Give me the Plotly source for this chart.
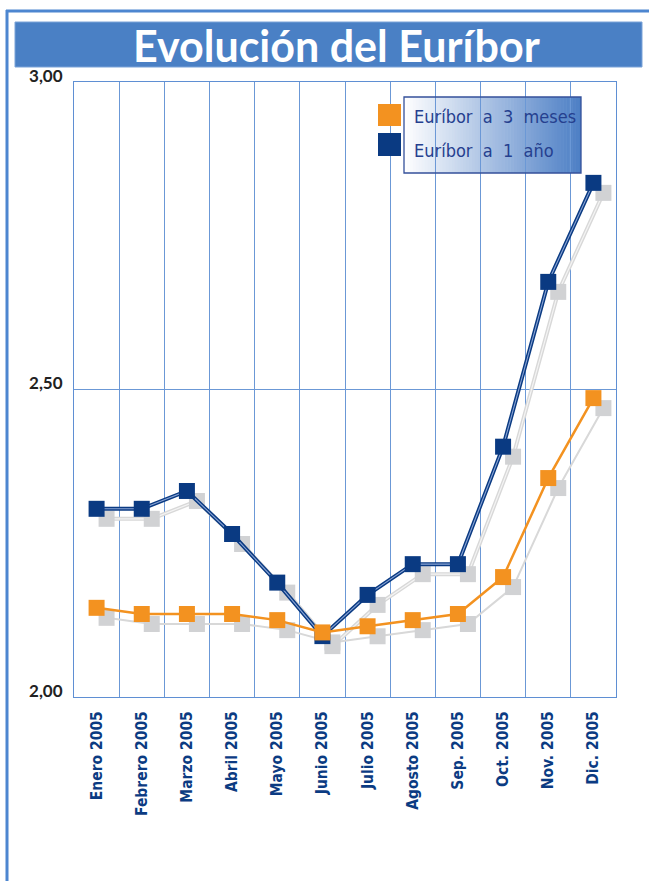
import plotly.graph_objects as go

# ---------------- data ----------------
months = ["Enero 2005", "Febrero 2005", "Marzo 2005", "Abril 2005", "Mayo 2005",
          "Junio 2005", "Julio 2005", "Agosto 2005", "Sep. 2005", "Oct. 2005",
          "Nov. 2005", "Dic. 2005"]
euribor_3m = [2.145, 2.135, 2.135, 2.135, 2.125, 2.105, 2.115, 2.125, 2.135, 2.195, 2.356, 2.486]
euribor_1y = [2.306, 2.306, 2.335, 2.265, 2.186, 2.099, 2.166, 2.216, 2.216, 2.407, 2.675, 2.836]
y_ticks = [2.0, 2.5, 3.0]
y_tick_labels = ["2,00", "2,50", "3,00"]
title_text = "Evolución del Euríbor"
legend_3m = "Euríbor  a  3  meses"
legend_1y = "Euríbor  a  1  año"

# ---------------- layout geometry ----------------
WIDTH, HEIGHT = 649, 881
L, R, T, B = 74, 616, 82, 697
W, H = R - L, B - T

def px(x):
    return (x - L) / W

def py(y):
    return (B - y) / H

BLUE = "#0a3a82"
ORANGE = "#f39220"
SHADOW = "#d1d2d4"
SHADOW_LINE = "#d8d8d8"
GRID = "#6b98d6"
FRAME = "#4d86d0"

xi = list(range(len(months)))
n = len(months)
shift_px = 10
dx = shift_px / (W / n)
dy = shift_px / H * (y_ticks[-1] - y_ticks[0])

fig = go.Figure()

# shadow traces (main axes, shifted ranges)
fig.add_trace(go.Scatter(x=xi, y=euribor_1y, mode="lines", line=dict(color=SHADOW_LINE, width=4),
                         hoverinfo="skip", showlegend=False))
fig.add_trace(go.Scatter(x=xi, y=euribor_1y, mode="lines", line=dict(color="#f4f4f4", width=1.2),
                         hoverinfo="skip", showlegend=False))
fig.add_trace(go.Scatter(x=xi, y=euribor_3m, mode="lines", line=dict(color=SHADOW_LINE, width=2),
                         hoverinfo="skip", showlegend=False))
fig.add_trace(go.Scatter(x=xi, y=euribor_1y, mode="markers",
                         marker=dict(symbol="square", size=16, color=SHADOW),
                         hoverinfo="skip", showlegend=False))
fig.add_trace(go.Scatter(x=xi, y=euribor_3m, mode="markers",
                         marker=dict(symbol="square", size=16, color=SHADOW),
                         hoverinfo="skip", showlegend=False))

# real series (overlay axes)
fig.add_trace(go.Scatter(x=xi, y=euribor_1y, mode="lines", line=dict(color=BLUE, width=4),
                         xaxis="x2", yaxis="y2", showlegend=False, hoverinfo="skip"))
fig.add_trace(go.Scatter(x=xi, y=euribor_1y, mode="lines", line=dict(color="#8aa5d6", width=1.1),
                         xaxis="x2", yaxis="y2", showlegend=False, hoverinfo="skip"))
fig.add_trace(go.Scatter(x=xi, y=euribor_1y, mode="markers", name="Euríbor a 1 año",
                         marker=dict(symbol="square", size=16, color=BLUE),
                         xaxis="x2", yaxis="y2", showlegend=False))
fig.add_trace(go.Scatter(x=xi, y=euribor_3m, mode="lines+markers", name="Euríbor a 3 meses",
                         line=dict(color=ORANGE, width=2.5),
                         marker=dict(symbol="square", size=16, color=ORANGE),
                         xaxis="x2", yaxis="y2", showlegend=False))

# ---------------- shapes ----------------
shapes = []
# outer frame
shapes.append(dict(type="line", xref="paper", yref="paper", x0=px(6), x1=px(660), y0=py(11), y1=py(11),
                   line=dict(color=FRAME, width=3)))
shapes.append(dict(type="line", xref="paper", yref="paper", x0=px(7), x1=px(7), y0=py(10), y1=py(900),
                   line=dict(color=FRAME, width=3)))
# title banner
shapes.append(dict(type="rect", xref="paper", yref="paper", x0=px(15), x1=px(642), y0=py(67), y1=py(22),
                   fillcolor="#4a80c5", line=dict(color="#7aa3d8", width=1)))
# legend gradient box
gx0, gx1, gy0, gy1 = 404, 581, 97, 173
steps = 60
c0 = (255, 255, 255)
c1 = (76, 126, 197)
for i in range(steps):
    t = (i + 0.5) / steps
    col = tuple(int(round(c0[k] + (c1[k] - c0[k]) * t)) for k in range(3))
    xa = gx0 + (gx1 - gx0) * i / steps
    xb = gx0 + (gx1 - gx0) * (i + 1) / steps + 0.6
    shapes.append(dict(type="rect", xref="paper", yref="paper", layer="below",
                       x0=px(xa), x1=px(min(xb, gx1)), y0=py(gy1), y1=py(gy0),
                       fillcolor="rgb(%d,%d,%d)" % col, line=dict(width=0)))
shapes.append(dict(type="rect", xref="paper", yref="paper", x0=px(gx0), x1=px(gx1), y0=py(gy1), y1=py(gy0),
                   line=dict(color="#34509a", width=1.3)))
# legend swatches
shapes.append(dict(type="rect", xref="paper", yref="paper", x0=px(378), x1=px(401), y0=py(126), y1=py(104),
                   fillcolor=ORANGE, line=dict(width=0)))
shapes.append(dict(type="rect", xref="paper", yref="paper", x0=px(378), x1=px(401), y0=py(156), y1=py(133),
                   fillcolor=BLUE, line=dict(width=0)))

COND_FONT = "DejaVu Sans Condensed, Liberation Sans Narrow, Arial Narrow, sans-serif"
annotations = [
    dict(text="<b>%s</b>" % title_text, xref="paper", yref="paper", x=px(336), y=py(45),
         xanchor="center", yanchor="middle", showarrow=False,
         font=dict(family="Lato, Open Sans, sans-serif", size=43, color="white")),
    dict(text=legend_3m, xref="paper", yref="paper", x=px(412), y=py(116),
         xanchor="left", yanchor="middle", showarrow=False,
         font=dict(family=COND_FONT, size=18, color="#25408f")),
    dict(text=legend_1y, xref="paper", yref="paper", x=px(412), y=py(150),
         xanchor="left", yanchor="middle", showarrow=False,
         font=dict(family=COND_FONT, size=18, color="#25408f")),
]

xr = [-0.5, n - 0.5]
yr = [y_ticks[0], y_ticks[-1]]

fig.update_layout(
    width=WIDTH, height=HEIGHT,
    margin=dict(l=L, r=WIDTH - R, t=T, b=HEIGHT - B, pad=0),
    paper_bgcolor="white", plot_bgcolor="white",
    showlegend=False,
    shapes=shapes,
    annotations=annotations,
    xaxis=dict(range=[xr[0] - dx, xr[1] - dx], visible=False, fixedrange=True),
    yaxis=dict(range=[yr[0] + dy, yr[1] + dy], visible=False, fixedrange=True),
    xaxis2=dict(overlaying="x", anchor="y2", range=xr, side="bottom", fixedrange=True,
                tickmode="array", tickvals=xi, ticktext=["<b>%s</b>" % m for m in months], tickangle=-90,
                ticks="", showgrid=False, zeroline=False,
                tickfont=dict(family=COND_FONT, size=15.5, color="#0b3b82"),
                ticklabelstandoff=7,
                minor=dict(tickmode="linear", tick0=0.5, dtick=1, showgrid=True,
                           gridcolor=GRID, gridwidth=1, ticks=""),
                showline=True, mirror=True, linecolor="#5f8fd3", linewidth=1),
    yaxis2=dict(overlaying="y", anchor="x2", range=yr, side="left", fixedrange=True,
                tickmode="array", tickvals=y_ticks, ticktext=["<b>%s</b>" % s for s in y_tick_labels],
                ticks="", showgrid=True, gridcolor=GRID, gridwidth=1, zeroline=False,
                tickfont=dict(family="Lato, Open Sans, sans-serif", size=17, color="#222222"),
                ticklabelstandoff=7, ticklabelshift=-6,
                showline=True, mirror=True, linecolor="#5f8fd3", linewidth=1),
)

fig.write_html("out.html", config={"displayModeBar": False},
               post_script="document.body.style.margin='0';")
